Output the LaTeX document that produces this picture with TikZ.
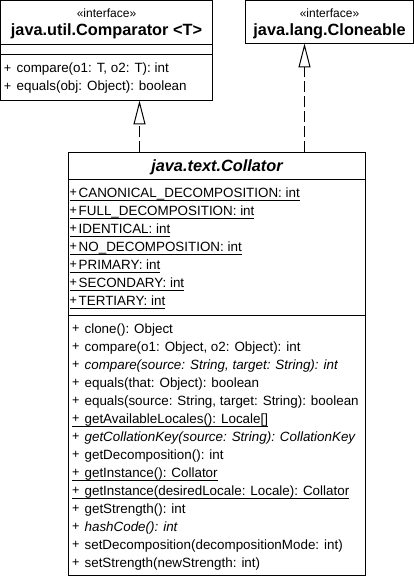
\documentclass[tikz,border=0pt]{standalone}
\usepackage{fontspec}
\setmainfont{Liberation Sans}
\usetikzlibrary{arrows.meta}
\newsavebox\ulbox
\newcommand{\ulx}[1]{\sbox\ulbox{#1}\rlap{\rule[-3.6pt]{\wd\ulbox}{1pt}}\usebox\ulbox}
\newcommand{\pl}{{\fontsize{12.6}{14}\selectfont\raisebox{0.3pt}{+}}}
\newcommand{\mplus}{\makebox[12.6pt][l]{\pl}}
\newcommand{\aplus}{\makebox[9.2pt][l]{\pl}}
\tikzset{
  box/.style={draw, line width=1pt, inner sep=0pt, outer sep=0pt, anchor=north west},
  sepline/.style={line width=1pt},
  txt/.style={anchor=base west, inner sep=0pt, outer sep=0pt, font=\fontsize{13.4}{16}\selectfont},
  stereo/.style={anchor=base, inner sep=0pt, outer sep=0pt, font=\fontsize{12}{14}\selectfont},
  ctitle/.style={anchor=base, inner sep=0pt, outer sep=0pt, font=\fontsize{16.3}{19}\selectfont\bfseries},
  real/.style={line width=1pt, dash pattern=on 11pt off 4pt,
    -{Triangle[open, length=24pt, width=12pt]}},
}
\begin{document}
\begin{tikzpicture}[x=1pt,y=-1pt]
\useasboundingbox (0,0) rectangle (414,577);
\fill[white] (0,0) rectangle (414,577);
% Comparator
\node[box, minimum width=212pt, minimum height=100pt] (comp) at (0.5,0.5) {};
\draw[sepline] (0.5,44.5) -- (212.5,44.5);
\draw[sepline] (0.5,54.5) -- (212.5,54.5);
\node[stereo] (compst) at (106.5,17.5) {«interface»};
\node[ctitle] (compt) at (106.5,35.5) {java.util.Comparator <T>};
\node[txt] (cm1) at (4,72.8) {\mplus compare(o1: T, o2: T): int};
\node[txt] (cm2) at (4,90.8) {\mplus equals(obj: Object): boolean};
% Cloneable
\node[box, minimum width=168pt, minimum height=43pt] (clon) at (245.5,0.5) {};
\node[stereo] (clonst) at (329.5,17.5) {«interface»};
\node[ctitle] (clont) at (329.5,35.5) {java.lang.Cloneable};
% Collator
\node[box, minimum width=297pt, minimum height=423pt] (coll) at (68.5,152.5) {};
\draw[sepline] (68.5,179.5) -- (365.5,179.5);
\draw[sepline] (68.5,315.5) -- (365.5,315.5);
\node[ctitle, font=\fontsize{16.3}{19}\selectfont\bfseries\itshape] (collt) at (217,171.5) {java.text.Collator};
\foreach \t [count=\i from 0] in {
  CANONICAL\_DECOMPOSITION: int,
  FULL\_DECOMPOSITION: int,
  IDENTICAL: int,
  NO\_DECOMPOSITION: int,
  PRIMARY: int,
  SECONDARY: int,
  TERTIARY: int}
  \node[txt] (ca\i) at (69.5,197+18*\i) {\ulx{\aplus\t}};
\foreach \t [count=\i from 0] in {
  {\mplus clone(): Object},
  {\mplus compare(o1: Object, o2: Object): int},
  {\mplus\textit{compare(source: String, target: String): int}},
  {\mplus equals(that: Object): boolean},
  {\mplus equals(source: String, target: String): boolean},
  {\ulx{\mplus getAvailableLocales(): Locale[]}},
  {\mplus\textit{getCollationKey(source: String): CollationKey}},
  {\mplus getDecomposition(): int},
  {\ulx{\mplus getInstance(): Collator}},
  {\ulx{\mplus getInstance(desiredLocale: Locale): Collator}},
  {\mplus getStrength(): int},
  {\mplus\textit{hashCode(): int}},
  {\mplus setDecomposition(decompositionMode: int)},
  {\mplus setStrength(newStrength: int)}}
  \node[txt] (cmm\i) at (72,333+18*\i) {\t};
% realizations
\coordinate (ax) at (139.5,0);
\coordinate (bx) at (304.5,0);
\draw[real] (coll.north -| ax) -- (comp.south -| ax);
\draw[real] (coll.north -| bx) -- (clon.south -| bx);
\end{tikzpicture}
\end{document}
